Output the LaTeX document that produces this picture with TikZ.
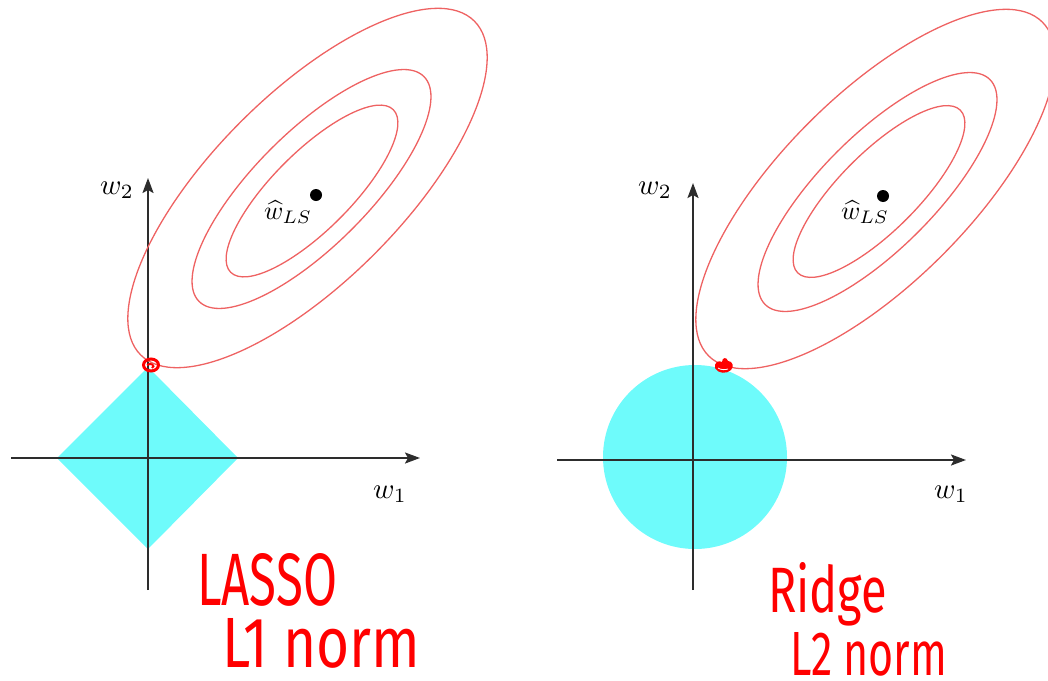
\documentclass[tikz,border=0pt]{standalone}
\usepackage{fontspec}
\usetikzlibrary{arrows.meta}
\newfontfamily\hand{Fira Sans}
\definecolor{regcyan}{RGB}{110,251,251}
\definecolor{contour}{RGB}{238,98,98}
\definecolor{markred}{RGB}{255,0,0}
\definecolor{axisgray}{RGB}{45,45,45}
\newcommand{\biglbl}[1]{\scalebox{2.9}{$#1$}}
\newcommand{\hatlbl}[1]{\scalebox{2.6}{$#1$}}
\begin{document}
\begin{tikzpicture}[x=1pt,y=-1pt,
  axis/.style={draw=axisgray, line width=2.2pt, -{Stealth[length=15pt,width=11pt,inset=3pt]}},
  contourline/.style={draw=contour, line width=1.3pt},
  region/.style={fill=regcyan, draw=none},
  lbl/.style={inner sep=0pt},
  handtext/.style={inner sep=0pt, text=markred, anchor=base west},
  optdot/.style={fill=black},
  touch/.style={draw=markred, line width=3pt}]
\useasboundingbox (0,0) rectangle (1048,680);
\clip (0,0) rectangle (1048,680);

% ---------------- left panel (LASSO) ----------------
\fill[region] (57,458) -- (148,367) -- (238,458) -- (148,549) -- cycle;
\coordinate (Lxs) at (11,458);
\coordinate (Lxe) at (420,458);
\coordinate (Lys) at (148,590);
\coordinate (Lye) at (148,178);
\draw[axis] (Lxs) -- (Lxe);
\draw[axis] (Lys) -- (Lye);
\draw[contourline, rotate around={45:(307.5,188)}] (307.5,188) ellipse [x radius=236, y radius=94];
\draw[contourline, rotate around={45:(311.5,189)}] (311.5,189) ellipse [x radius=159, y radius=57];
\draw[contourline, rotate around={45:(312,191)}] (312,191) ellipse [x radius=115, y radius=39];
\fill[optdot] (316,195) circle [radius=6];
\node[lbl] (Lhat) at (288,212) {\hatlbl{\widehat{w}_{LS}}};
\node[lbl] (Lw2) at (117,190) {\biglbl{w_2}};
\node[lbl] (Lw1) at (390,494) {\biglbl{w_1}};
\draw[touch] (151,365) ellipse [x radius=7.5, y radius=6];
\draw[markred, line width=2pt] (147,365) .. controls (151,362) and (156,366) .. (152,368);
\node[handtext] (lasso) at (197,605) {\resizebox{140pt}{52pt}{\hand LASSO}};
\node[handtext] (lone) at (222,667) {\resizebox{198pt}{49pt}{\hand L1 norm}};

% ---------------- right panel (Ridge) ----------------
\fill[region] (695,457) circle [radius=92];
\coordinate (Rxs) at (557,460);
\coordinate (Rxe) at (966,460);
\coordinate (Rys) at (693,590);
\coordinate (Rye) at (693,183);
\draw[axis] (Rxs) -- (Rxe);
\draw[axis] (Rys) -- (Rye);
\draw[contourline, rotate around={45:(875.5,189)}] (875.5,189) ellipse [x radius=236, y radius=94];
\draw[contourline, rotate around={45:(877.5,192)}] (877.5,192) ellipse [x radius=159, y radius=57];
\draw[contourline, rotate around={45:(879,191.5)}] (879,191.5) ellipse [x radius=115, y radius=39];
\fill[optdot] (883,196) circle [radius=6];
\node[lbl] (Rhat) at (865,212) {\hatlbl{\widehat{w}_{LS}}};
\node[lbl] (Rw2) at (655,190) {\biglbl{w_2}};
\node[lbl] (Rw1) at (951,494) {\biglbl{w_1}};
\fill[markred] (715,368) .. controls (714,362) and (719,360) .. (722,362)
  .. controls (722,357) and (727,357) .. (728,361)
  .. controls (733,361) and (734,367) .. (731,370)
  .. controls (727,374) and (718,374) .. (715,368) -- cycle;
\draw[white, line width=0.8pt] (718,368) .. controls (721,370) and (725,370) .. (728,369);
\node[handtext] (ridge) at (768,612) {\resizebox{119pt}{50pt}{\hand Ridge}};
\node[handtext] (ltwo) at (790,675) {\resizebox{157pt}{43pt}{\hand L2 norm}};
\end{tikzpicture}
\end{document}
